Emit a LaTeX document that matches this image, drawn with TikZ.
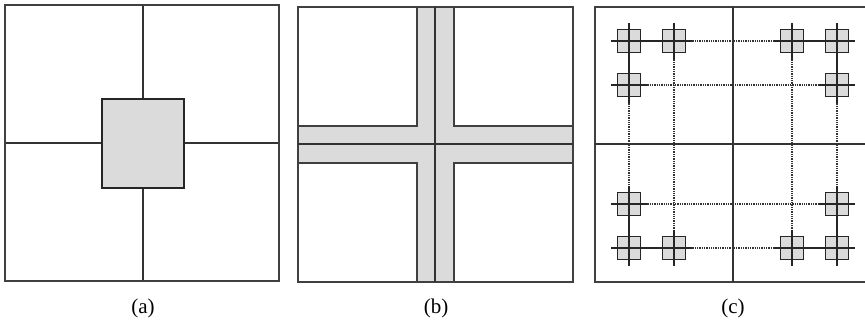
\documentclass[tikz,border=0pt]{standalone}
\usepackage{fontspec}
\setmainfont{Liberation Serif}
\begin{document}
\begin{tikzpicture}[x=1pt,y=-1pt,
  frame/.style={draw=black!75,line width=1.3pt},
  thin/.style={draw=black!80,line width=1.2pt},
  shade/.style={fill=black!14},
  dots/.style={draw=black!80,line width=1.3pt,densely dotted},
  arm/.style={draw=black!85,line width=1.3pt},
  pad/.style={fill=black!14,draw=black!85,line width=1.6pt},
  lab/.style={font=\fontsize{21}{24}\selectfont,inner sep=0pt}]
\useasboundingbox (0,0) rectangle (865,325);
% ---------- (a)
\draw[thin] (143,5) -- (143,281);
\draw[thin] (5,143) -- (279,143);
\draw[pad,line width=1.4pt] (102,99) rectangle (184,188);
\draw[frame] (5,5) rectangle (279,281);
\node[lab] (la) at (143,308) {(a)};
% ---------- (b)
\fill[shade] (417,7) rectangle (454,282);
\fill[shade] (298,126) rectangle (573,163);
\draw[frame] (298,7) rectangle (417,126);
\draw[frame] (454,7) rectangle (573,126);
\draw[frame] (298,163) rectangle (417,282);
\draw[frame] (454,163) rectangle (573,282);
\draw[frame] (417,7) -- (454,7);
\draw[frame] (417,282) -- (454,282);
\draw[frame] (298,126) -- (298,163);
\draw[frame] (573,126) -- (573,163);
\draw[thin,line width=1.5pt] (435,7) -- (435,282);
\draw[thin,line width=1.5pt] (298,144) -- (573,144);
\node[lab] (lb) at (436,308) {(b)};
% ---------- (c)
\draw[frame] (866,7) -- (595,7) -- (595,282) -- (866,282);
\draw[thin] (733,7) -- (733,282);
\draw[thin] (595,144) -- (866,144);
% dotted connections
\foreach \y in {41,248} \draw[dots] (674,\y) -- (792,\y);
\foreach \y in {85,204} \draw[dots] (629,\y) -- (837,\y);
\foreach \x in {629,837} \draw[dots] (\x,85) -- (\x,204);
\foreach \x in {674,792} \draw[dots] (\x,41) -- (\x,248);
% solid connections
\foreach \y in {41,248} {\draw[arm] (629,\y) -- (674,\y); \draw[arm] (792,\y) -- (837,\y);}
\foreach \x in {629,837} {\draw[arm] (\x,41) -- (\x,85); \draw[arm] (\x,204) -- (\x,248);}
% pads
\foreach \x/\y in {629/41,674/41,792/41,837/41,629/85,837/85,629/204,837/204,629/248,674/248,792/248,837/248} {
  \draw[pad] (\x-11.5,\y-11.5) rectangle (\x+11.5,\y+11.5);
  \draw[arm] (\x-18,\y) -- (\x+18,\y);
  \draw[arm] (\x,\y-18) -- (\x,\y+18);
}
\node[lab] (lc) at (733,308) {(c)};
\end{tikzpicture}
\end{document}
